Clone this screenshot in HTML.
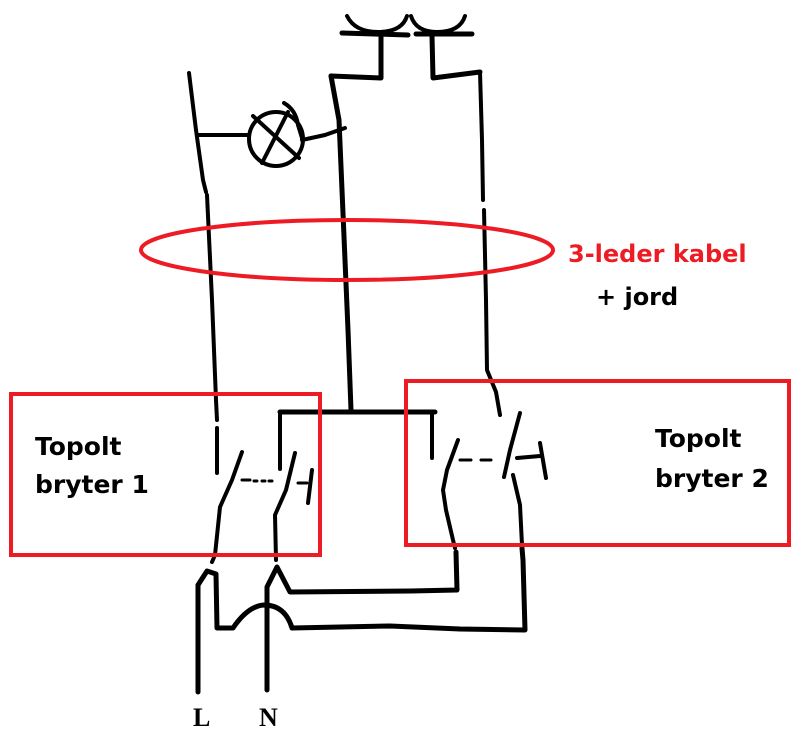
<!DOCTYPE html>
<html><head><meta charset="utf-8"><style>
html,body{margin:0;padding:0;background:#fff;width:799px;height:737px;overflow:hidden}
svg{display:block}
text{font-family:"DejaVu Sans","Liberation Sans",sans-serif;font-weight:bold}
</style></head><body>
<svg width="799" height="737" viewBox="0 0 799 737" xmlns="http://www.w3.org/2000/svg">
<g fill="none" stroke="#000" stroke-width="4" stroke-linecap="round" stroke-linejoin="round">
<path d="M347,16 Q355,32 378,32 Q402,32 407,16"/>
<path d="M411,16 Q416,32 437,32 Q460,32 465,16"/>
<path d="M342,33 L408,35" stroke-width="5"/>
<path d="M416,34 L472,34" stroke-width="5"/>
<path d="M381,36 L381,78 L331,76" stroke-width="5"/>
<path d="M432,36 L433,78 L480,72" stroke-width="5"/>
<path d="M189,73 L196,130 L203,180 L206,192"/>
<path d="M207,195 L212,300 L216,400 L217,420"/>
<path d="M217,428 L217,473"/>
<path d="M197,135 L249,135"/>
<circle cx="276" cy="139" r="27"/>
<path d="M253,116 L299,158"/>
<path d="M288,112 L262,163"/>
<path d="M284,103 Q296,110 298,125 L302,138"/>
<path d="M302,140 L325,135 L345,128"/>
<path d="M331,76 L339,120 L342,190 L345,260 L348,330 L351,410" stroke-width="5"/>
<path d="M280,412 L435,412" stroke-width="5"/>
<path d="M280,412 L280,469"/>
<path d="M432,412 L432,458"/>
<path d="M480,72 L482,140 L483,200"/>
<path d="M484,210 L486,300 L487,370 L496,392 L500,415"/>
<path d="M242,452 L232,480 L220,507 L215,555 L212,562"/>
<path d="M242,480 L250,480" stroke-width="3"/>
<path d="M254,481 L257,481 M262,481 L265,481 M269,481 L272,481" stroke-width="3"/>
<path d="M295,453 L286,490 L275,515 L276,560"/>
<path d="M312,470 L308,503"/>
<path d="M298,483 L307,483" stroke-width="3"/>
<path d="M458,440 L447,470 L443,490 L446,510 L453,540 L455,548"/>
<path d="M460,460 L471,460 M481,460 L491,460" stroke-width="3"/>
<path d="M520,413 L510,450 L504,477"/>
<path d="M517,458 L540,456"/>
<path d="M540,443 L546,478"/>
<path d="M513,475 L520,505 L522,545"/>
<path d="M198,692 L198,585 L207,571 L216,574 L217,628 L233,628 Q248,606 264,605 Q285,605 292,628 L390,626 L460,629 L525,630 L523,560 L522,548" stroke-width="5"/>
<path d="M267,690 L267,587 L277,567 L290,592 L411,591 L457,590 L456,552" stroke-width="5"/>
</g>
<g fill="none" stroke="#ed1c24" stroke-width="4">
<ellipse cx="347" cy="250" rx="206" ry="30"/>
<rect x="11" y="394" width="309" height="161"/>
<rect x="406" y="381" width="383" height="164"/>
</g>
<text x="568" y="262" font-size="24" fill="#ed1c24">3-leder kabel</text>
<text x="596" y="305" font-size="24" fill="#000">+ jord</text>
<text x="35" y="455" font-size="25" fill="#000">Topolt</text>
<text x="35" y="493" font-size="25" fill="#000">bryter 1</text>
<text x="655" y="447" font-size="25" fill="#000">Topolt</text>
<text x="655" y="487" font-size="25" fill="#000">bryter 2</text>
<text x="193" y="726" font-size="26" fill="#000" style="font-family:'Liberation Serif',serif">L</text>
<text x="259" y="726" font-size="26" fill="#000" style="font-family:'Liberation Serif',serif">N</text>
</svg>
</body></html>
